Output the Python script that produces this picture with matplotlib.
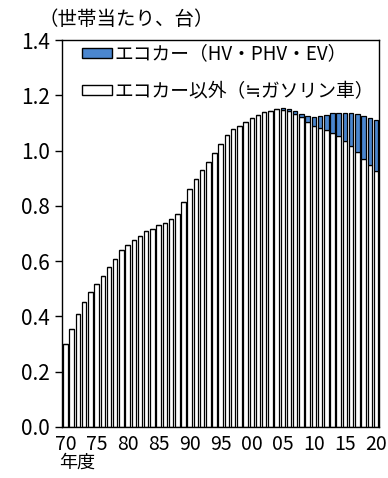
import numpy as np
import matplotlib.pyplot as plt
from matplotlib.patches import Patch

plt.rcParams['font.family'] = ['Noto Sans CJK JP', 'DejaVu Sans']

# 年度 (1970-2020)
years = np.arange(1970, 2021)

# エコカー以外（≒ガソリン車）, 世帯当たり台数
gas = [0.300, 0.354, 0.409, 0.451, 0.488, 0.516, 0.545, 0.578, 0.609, 0.641,
       0.660, 0.675, 0.692, 0.708, 0.717, 0.729, 0.737, 0.753, 0.769, 0.814,
       0.860, 0.898, 0.930, 0.959, 0.991, 1.024, 1.057, 1.080, 1.091, 1.105,
       1.118, 1.130, 1.139, 1.143, 1.149, 1.147, 1.143, 1.131, 1.123, 1.103,
       1.090, 1.082, 1.075, 1.063, 1.052, 1.034, 1.016, 0.994, 0.970, 0.949,
       0.928]

# エコカー（HV・PHV・EV）
eco = [0.0] * 35 + [0.007, 0.007, 0.012, 0.010, 0.022,
                    0.033, 0.044, 0.055, 0.075, 0.086, 0.104, 0.122, 0.138,
                    0.156, 0.169, 0.183]

xticks = list(range(1970, 2021, 5))
xlabels = ['%02d' % (y % 100) for y in xticks]
yticks = [0.0, 0.2, 0.4, 0.6, 0.8, 1.0, 1.2, 1.4]

blue = '#4a86cf'

fig = plt.figure(figsize=(3.88, 4.78), dpi=100)
ax = fig.add_axes([0.160, 0.107, 0.817, 0.809])

ax.bar(years, gas, width=0.72, color='white', edgecolor='black', linewidth=0.9)
ax.bar(years, eco, bottom=gas, width=0.72, color=blue, edgecolor='black', linewidth=0.9)

ax.set_xlim(1969.45, 2020.5)
ax.set_ylim(0, 1.4)
ax.set_yticks(yticks)
ax.set_yticklabels(['%.1f' % v for v in yticks], fontsize=15)
ax.set_xticks(xticks)
ax.set_xticklabels(xlabels, fontsize=14)
ax.tick_params(axis='y', direction='out', length=5, width=1, pad=4)
ax.tick_params(axis='x', length=0, pad=5)
for s in ax.spines.values():
    s.set_linewidth(1.0)

fig.text(0.100, 0.960, '（世帯当たり、台）', fontsize=14, ha='left', va='center')
fig.text(0.152, 0.033, '年度', fontsize=13, ha='left', va='center')

handles = [Patch(facecolor=blue, edgecolor='black', linewidth=1.0),
           Patch(facecolor='white', edgecolor='black', linewidth=1.0)]
labels = ['エコカー（HV・PHV・EV）', 'エコカー以外（≒ガソリン車）']
ax.legend(handles, labels, loc='upper left', bbox_to_anchor=(0.02, 1.026),
          frameon=False, fontsize=13.5, handlelength=1.65, handleheight=0.45,
          handletextpad=0.1, labelspacing=0.9, borderaxespad=0.3)

fig.savefig('out.png', dpi=100)
